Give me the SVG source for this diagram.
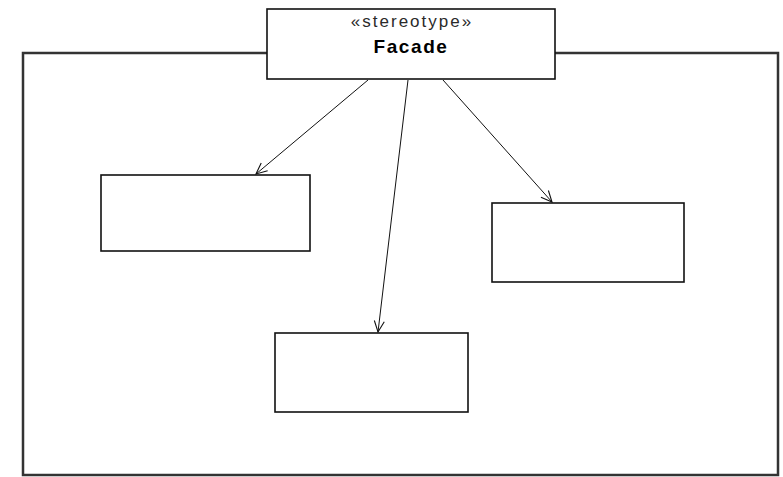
<svg xmlns="http://www.w3.org/2000/svg" width="783" height="477" viewBox="0 0 783 477">
  <style>
    .frame { fill: none; stroke: #333333; stroke-width: 2.5; }
    .box { fill: #ffffff; stroke: #111111; stroke-width: 1.6; }
    .link { fill: none; stroke: #111111; stroke-width: 1; }
    .stereo { font-family: "Liberation Sans", Arial, sans-serif; font-size: 17px; letter-spacing: 2px; fill: #2a2a2a; text-anchor: middle; }
    .name { font-family: "Liberation Sans", Arial, sans-serif; font-size: 19px; font-weight: bold; letter-spacing: 1.6px; fill: #000000; text-anchor: middle; }
  </style>
  <defs>
    <marker id="open-arrow" markerWidth="14" markerHeight="12" refX="12" refY="6" orient="auto" markerUnits="userSpaceOnUse">
      <path d="M1,1 L12,6 L1,11" fill="none" stroke="#111111" stroke-width="1.1"/>
    </marker>
  </defs>
  <rect width="783" height="477" fill="#ffffff"/>

  <!-- subsystem boundary -->
  <g id="subsystem">
    <rect class="frame" x="23" y="53" width="755" height="422"/>
  </g>

  <!-- dependencies from the facade -->
  <g id="connectors">
    <line class="link" x1="368" y1="80" x2="256" y2="174" marker-end="url(#open-arrow)"/>
    <line class="link" x1="408" y1="80" x2="378" y2="332" marker-end="url(#open-arrow)"/>
    <line class="link" x1="443" y1="80" x2="552" y2="202" marker-end="url(#open-arrow)"/>
  </g>

  <g id="facade">
    <rect class="box" x="267" y="9" width="288" height="70"/>
    <text class="stereo" x="412" y="27">«stereotype»</text>
    <text class="name" x="411" y="53">Facade</text>
  </g>

  <g id="class-left">
    <rect class="box" x="101" y="175" width="209" height="76"/>
  </g>

  <g id="class-right">
    <rect class="box" x="492" y="203" width="192" height="79"/>
  </g>

  <g id="class-bottom">
    <rect class="box" x="275" y="333" width="193" height="79"/>
  </g>
</svg>
